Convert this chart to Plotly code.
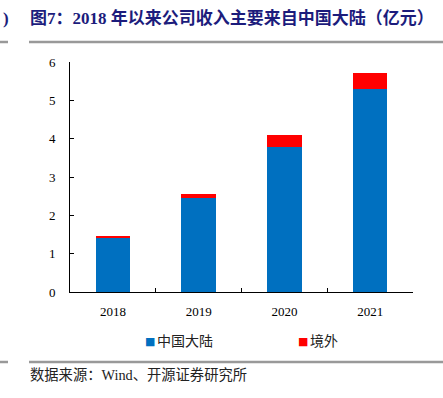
import plotly.graph_objects as go

years = ["2018", "2019", "2020", "2021"]
mainland = [1.43, 2.44, 3.79, 5.30]
overseas = [0.03, 0.12, 0.30, 0.41]
y_ticks = [0, 1, 2, 3, 4, 5, 6]
series_names = ["中国大陆", "境外"]
series_colors = ["#0070C0", "#FF0000"]

serif = "Liberation Serif, Times New Roman, Noto Sans CJK SC, serif"
cjk = "Liberation Serif, Noto Sans CJK SC, serif"

fig = go.Figure()
fig.add_trace(go.Bar(x=years, y=mainland, name=series_names[0], marker=dict(color=series_colors[0], line=dict(width=0))))
fig.add_trace(go.Bar(x=years, y=overseas, name=series_names[1], marker=dict(color=series_colors[1], line=dict(width=0))))

W, H = 443, 398
L, R, T, B = 70, 30, 62, 106
pw, ph = W - L - R, H - T - B

def px(x):
    return (x - L) / pw

def py(y):
    return (H - B - y) / ph

fig.update_layout(
    width=W, height=H,
    margin=dict(l=L, r=R, t=T, b=B, pad=0, autoexpand=False),
    barmode="stack",
    bargap=0.595,
    plot_bgcolor="white",
    paper_bgcolor="white",
    showlegend=False,
    xaxis=dict(showline=True, linecolor="#000", linewidth=1, ticks="inside", ticklen=4,
               tickson="boundaries", tickcolor="#000", showgrid=False,
               tickfont=dict(family=serif, size=13, color="#000"), ticklabelstandoff=7),
    yaxis=dict(range=[0, 6], tickvals=y_ticks, showline=True, linecolor="#000", linewidth=1,
               ticks="inside", ticklen=4, tickcolor="#000", showgrid=False, zeroline=False,
               tickfont=dict(family=serif, size=13, color="#000"), ticklabelstandoff=11),
)

navy = "#1C1C7C"
annots = [
    dict(text="<b>图7：2018 年以来公司收入主要来自中国大陆（亿元）</b>", x=px(28), y=py(18),
         xanchor="left", yanchor="middle", font=dict(family=cjk, size=17, color=navy)),
    dict(text="<b>)</b>", x=px(1), y=py(18), xanchor="left", yanchor="middle",
         font=dict(family=cjk, size=17, color=navy)),
    dict(text="数据来源：Wind、开源证券研究所", x=px(28), y=py(375), xanchor="left", yanchor="middle",
         font=dict(family=cjk, size=14.3, color="#222")),
]
# manual legend
leg_x = [143, 296]
for name, color, lx in zip(series_names, series_colors, leg_x):
    annots.append(dict(text="■", x=px(lx), y=py(341), xanchor="left", yanchor="middle",
                       font=dict(family="DejaVu Sans", size=11, color=color)))
    annots.append(dict(text=name, x=px(lx + 12), y=py(341), xanchor="left", yanchor="middle",
                       font=dict(family=cjk, size=14, color="#222")))
for a in annots:
    a.update(xref="paper", yref="paper", showarrow=False)
fig.update_layout(annotations=annots)

for y in (42, 362):
    fig.add_shape(type="line", xref="paper", yref="paper", x0=px(29), x1=px(443), y0=py(y), y1=py(y),
                  line=dict(color="#999", width=2.5))
    fig.add_shape(type="line", xref="paper", yref="paper", x0=px(0), x1=px(8), y0=py(y), y1=py(y),
                  line=dict(color="#999", width=2.5))

fig.write_html("out.html", config={"displayModeBar": False},
               post_script="document.body.style.margin='0';document.body.style.overflow='hidden';")
